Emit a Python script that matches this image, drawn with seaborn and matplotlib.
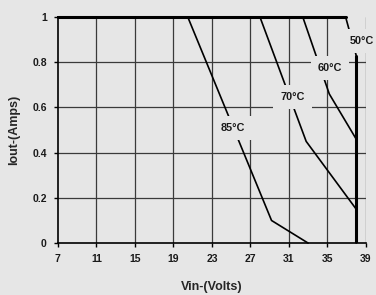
import matplotlib
matplotlib.use("Agg")
import matplotlib.pyplot as plt
import seaborn as sns
import pandas as pd

# Derating curves: Iout vs Vin at each ambient temperature
x_ticks = [7, 11, 15, 19, 23, 27, 31, 35, 39]
y_ticks = [0, 0.2, 0.4, 0.6, 0.8, 1]
y_tick_labels = ["0", "0.2", "0.4", "0.6", "0.8", "1"]

vin_85 = [7, 20.5, 29.2, 33.0]
iout_85 = [1, 1, 0.10, 0]

vin_70 = [7, 28.0, 32.8, 38.0]
iout_70 = [1, 1, 0.45, 0.15]

vin_60 = [7, 32.45, 35.2, 38.0]
iout_60 = [1, 1, 0.66, 0.46]

vin_50 = [7, 36.9, 38.0, 38.0]
iout_50 = [1, 1, 0.83, 0]

labels = ["85°C", "70°C", "60°C", "50°C"]
label_x = [25.2, 31.4, 35.3, 38.6]
label_y = [0.51, 0.645, 0.775, 0.895]

BG = "#e6e6e6"

sns.set_theme(style="white")
plt.rcParams['font.family'] = ['Liberation Sans', 'DejaVu Sans']

fig = plt.figure(figsize=(3.76, 2.95), dpi=100, facecolor=BG)
ax = fig.add_axes([0.154, 0.176, 0.819, 0.766])
ax.set_facecolor(BG)

ax.set_xlim(7, 39)
ax.set_ylim(0, 1)
ax.set_xticks(x_ticks)
ax.set_yticks(y_ticks)
ax.set_yticklabels(y_tick_labels)

for xv in x_ticks[1:]:
    ax.axvline(xv, color="#3a3a3a", lw=0.9, zorder=1)
for yv in y_ticks[1:-1]:
    ax.axhline(yv, color="#3a3a3a", lw=0.9, zorder=1)

curves = [(vin_85, iout_85), (vin_70, iout_70), (vin_60, iout_60), (vin_50, iout_50)]
for vx, vy in curves:
    df = pd.DataFrame({"vin": vx, "iout": vy})
    sns.lineplot(data=df, x="vin", y="iout", sort=False, estimator=None,
                 color="black", lw=1.2, ax=ax, zorder=3, clip_on=False)

# thick end line of the 50C curve and top boundary
sns.lineplot(x=vin_50[2:], y=iout_50[2:], sort=False, estimator=None,
             color="black", lw=2.2, ax=ax, zorder=3)
sns.lineplot(x=vin_50[:2], y=iout_50[:2], sort=False, estimator=None,
             color="black", lw=2.2, ax=ax, zorder=3, clip_on=False)

for lab, lx, ly in zip(labels, label_x, label_y):
    ax.text(lx, ly, lab, ha="center", va="center", fontsize=7.8, fontweight="bold",
            color="#1a1a1a", zorder=5, clip_on=False,
            bbox=dict(boxstyle="square,pad=0.65", facecolor=BG, edgecolor="none"))

for s in ["top", "right"]:
    ax.spines[s].set_visible(False)
ax.spines["left"].set_color("black")
ax.spines["bottom"].set_color("black")
ax.spines["left"].set_linewidth(1.2)
ax.spines["bottom"].set_linewidth(1.2)

ax.tick_params(axis="both", which="both", direction="out", length=3, width=1,
               color="black", labelsize=7.5, pad=5, bottom=True, left=True)
for t in ax.get_xticklabels() + ax.get_yticklabels():
    t.set_fontweight("bold")
    t.set_color("#1a1a1a")

ax.set_xlabel("Vin-(Volts)", fontsize=9, fontweight="bold", labelpad=12)
ax.set_ylabel("Iout-(Amps)", fontsize=9, fontweight="bold", labelpad=9)

fig.savefig("out.png", dpi=100, facecolor=BG)
